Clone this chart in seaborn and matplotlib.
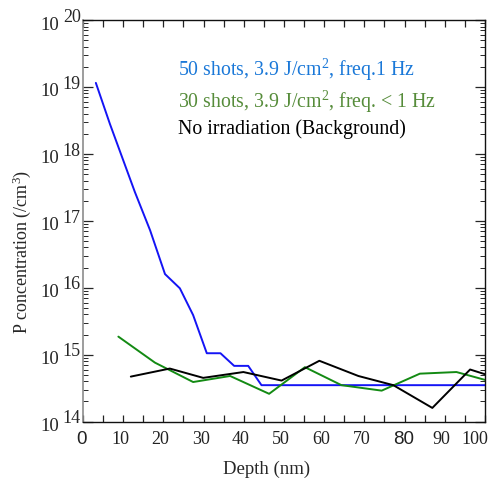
import numpy as np
import pandas as pd
import matplotlib
matplotlib.use('Agg')
import matplotlib.pyplot as plt
import matplotlib.transforms as mtransforms
from matplotlib.ticker import FixedLocator, LogLocator, NullFormatter, FuncFormatter
import seaborn as sns

# depth (nm) and P concentration (/cm^3)
blue_depth = [3.2, 6.7, 12.9, 16.7, 20.4, 24.1, 27.4, 30.8, 34.2, 37.6, 41.1, 44.4, 100]
blue_conc = [1.15e19, 2.8e18, 2.7e17, 7.2e16, 1.6e16, 9.8e15, 3.9e15, 1.05e15, 1.05e15,
             6.8e14, 6.8e14, 3.5e14, 3.5e14]

green_depth = [8.8, 17.9, 27.4, 36.6, 46.3, 55.2, 64.3, 74.3, 83.8, 92.9, 100]
green_conc = [1.86e15, 7.6e14, 3.9e14, 4.8e14, 2.6e14, 6.5e14, 3.5e14, 2.9e14, 5.2e14, 5.5e14, 4.2e14]

black_depth = [11.9, 21.6, 29.9, 39.9, 49.4, 58.8, 68.5, 77.2, 86.9, 96.3, 100]
black_conc = [4.7e14, 6.2e14, 4.5e14, 5.5e14, 4.1e14, 8.1e14, 4.8e14, 3.5e14, 1.6e14, 6.0e14, 5.1e14]

legend_labels = [r"50 shots, 3.9 J/cm$^{\mathrm{2}}$, freq.1 Hz",
                 r"30 shots, 3.9 J/cm$^{\mathrm{2}}$, freq. < 1 Hz",
                 "No irradiation (Background)"]
x_ticks = [0, 10, 20, 30, 40, 50, 60, 70, 80, 90, 100]
y_exponents = [14, 15, 16, 17, 18, 19, 20]

sns.set_theme(style='ticks')
plt.rcParams['font.family'] = ['Liberation Serif', 'DejaVu Serif']
plt.rcParams['mathtext.fontset'] = 'custom'
plt.rcParams['mathtext.rm'] = 'Liberation Serif'
plt.rcParams['mathtext.it'] = 'Liberation Serif:italic'

df = pd.concat([
    pd.DataFrame({'depth': blue_depth, 'conc': blue_conc, 'series': 'blue'}),
    pd.DataFrame({'depth': green_depth, 'conc': green_conc, 'series': 'green'}),
    pd.DataFrame({'depth': black_depth, 'conc': black_conc, 'series': 'black'}),
])
line_colors = {'blue': '#1414f5', 'green': '#138a13', 'black': '#000000'}
text_colors = ['#1a78d8', '#568c3a', '#000000']

fig = plt.figure(figsize=(4.96, 4.80), dpi=100)
ax = fig.add_axes([0.1673, 0.1217, 0.8105, 0.8366])

sns.lineplot(data=df, x='depth', y='conc', hue='series', palette=line_colors,
             estimator=None, sort=False, linewidth=1.4, legend=False, ax=ax)

ax.set_yscale('log')
ax.set_xlim(0, 100)
ax.set_ylim(1e14, 1e20)

# x axis ticks
ax.xaxis.set_major_locator(FixedLocator(x_ticks))
ax.xaxis.set_minor_locator(FixedLocator([v + 5 for v in x_ticks[:-1]]))
ax.set_xticklabels([str(v) for v in x_ticks])
ax.tick_params(axis='x', which='both', direction='in', top=True, length=5, width=0.9,
               labelsize=13, pad=7, colors='#222222')
for lab in ax.get_xticklabels():
    shift = -10 if lab.get_text() == '100' else -3
    if lab.get_text() in ('0', '80'):
        lab.set_fontfamily('Liberation Sans')
        lab.set_fontsize(13.5)
        shift = -1
    lab.set_transform(lab.get_transform() +
                      mtransforms.ScaledTranslation(shift / 100, 0, fig.dpi_scale_trans))

# y axis ticks: "10" as tick label, exponent as separate text
ax.yaxis.set_major_locator(FixedLocator([10.0 ** e for e in y_exponents]))
ax.yaxis.set_minor_locator(LogLocator(base=10, subs=np.arange(2, 10), numticks=20))
ax.yaxis.set_minor_formatter(NullFormatter())
ax.yaxis.set_major_formatter(FuncFormatter(lambda v, p: "10"))
ax.tick_params(axis='y', which='major', direction='in', right=True, length=7, width=0.9,
               labelsize=13.5, pad=17.5)
ax.tick_params(axis='y', which='minor', direction='in', right=True, length=3.5, width=0.7)
for lab in ax.get_yticklabels():
    lab.set_transform(lab.get_transform() +
                      mtransforms.ScaledTranslation(0, -3 / 100, fig.dpi_scale_trans))
for e in y_exponents:
    ax.annotate(str(e), xy=(0, 10.0 ** e), xycoords=ax.get_yaxis_transform(),
                xytext=(-1.5, 2), textcoords='offset points', ha='right', va='center',
                fontsize=13, annotation_clip=False)

for side in ['top', 'bottom', 'right']:
    ax.spines[side].set_color('#111111')
    ax.spines[side].set_linewidth(1.0)
ax.spines['left'].set_color('#8c8c8c')
ax.spines['left'].set_linewidth(1.2)

ax.set_xlabel("Depth (nm)", fontsize=13.5, va='center')
ax.xaxis.set_label_coords(0.456, -0.12)
ax.set_ylabel(r"P concentration (/cm$^{\mathrm{3}}$)", fontsize=13, va='center')
ax.yaxis.set_label_coords(-0.152, 0.422)

# legend-like text block
for label, color, ypos in zip(legend_labels, text_colors, [0.8755, 0.796, 0.7286]):
    ax.text(0.236, ypos, label, color=color, fontsize=14.3,
            transform=ax.transAxes, ha='left', va='center')

fig.savefig('out.png', dpi=100)
